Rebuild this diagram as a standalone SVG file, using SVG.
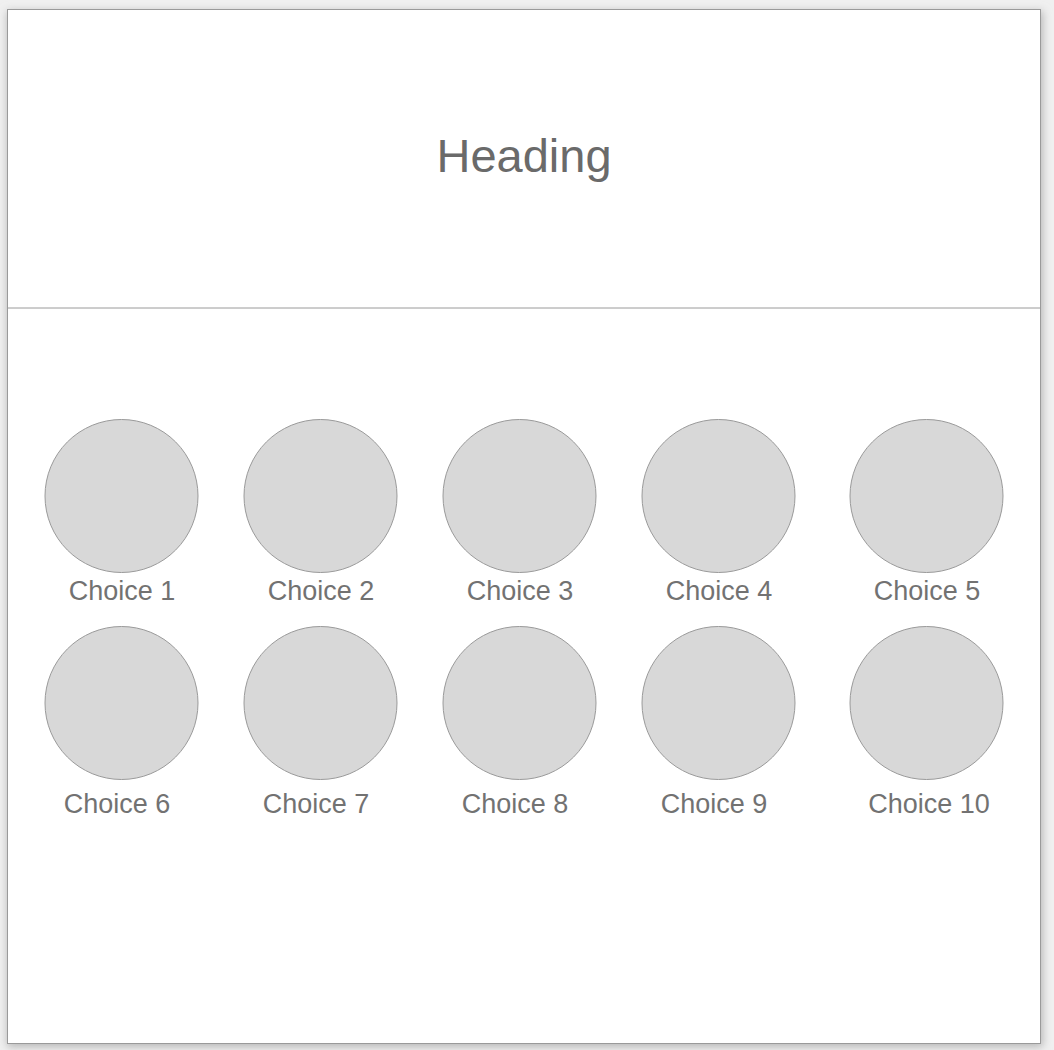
<svg xmlns="http://www.w3.org/2000/svg" width="1054" height="1050" viewBox="0 0 1054 1050">
  <style>
    .frame { fill: #ffffff; stroke: #9a9a9a; stroke-width: 1; }
    .choice circle { fill: #d8d8d8; stroke: #9a9a9a; stroke-width: 1; }
    .lbl { font-family: "Liberation Sans", Arial, sans-serif; font-size: 27px; fill: #727272; text-anchor: middle; }
    .heading { font-family: "Liberation Sans", Arial, sans-serif; font-size: 47px; fill: #6a6a6a; text-anchor: middle; }
  </style>
  <defs>
    <filter id="shadow" x="-5%" y="-5%" width="110%" height="110%">
      <feGaussianBlur stdDeviation="4"/>
    </filter>
  </defs>
  <rect x="0" y="0" width="1054" height="1050" fill="#f0f0f0"/>
  <rect x="7" y="11" width="1036" height="1036" fill="#b8b8b8" filter="url(#shadow)"/>
  <g id="page">
    <rect class="frame" x="7.5" y="9.5" width="1033" height="1034"/>
  </g>
  <g id="heading">
    <rect class="frame" x="7.5" y="9.5" width="1033" height="298.5"/>
    <text class="heading" x="524" y="172">Heading</text>
  </g>
  <g id="choice1" class="choice"><circle cx="121.5" cy="496" r="76.5"/><text class="lbl" x="122" y="600">Choice 1</text></g>
  <g id="choice2" class="choice"><circle cx="320.5" cy="496" r="76.5"/><text class="lbl" x="321" y="600">Choice 2</text></g>
  <g id="choice3" class="choice"><circle cx="519.5" cy="496" r="76.5"/><text class="lbl" x="520" y="600">Choice 3</text></g>
  <g id="choice4" class="choice"><circle cx="718.5" cy="496" r="76.5"/><text class="lbl" x="719" y="600">Choice 4</text></g>
  <g id="choice5" class="choice"><circle cx="926.5" cy="496" r="76.5"/><text class="lbl" x="927" y="600">Choice 5</text></g>
  <g id="choice6" class="choice"><circle cx="121.5" cy="703" r="76.5"/><text class="lbl" x="117" y="813">Choice 6</text></g>
  <g id="choice7" class="choice"><circle cx="320.5" cy="703" r="76.5"/><text class="lbl" x="316" y="813">Choice 7</text></g>
  <g id="choice8" class="choice"><circle cx="519.5" cy="703" r="76.5"/><text class="lbl" x="515" y="813">Choice 8</text></g>
  <g id="choice9" class="choice"><circle cx="718.5" cy="703" r="76.5"/><text class="lbl" x="714" y="813">Choice 9</text></g>
  <g id="choice10" class="choice"><circle cx="926.5" cy="703" r="76.5"/><text class="lbl" x="929" y="813">Choice 10</text></g>
  <g id="connectors"/>
</svg>
